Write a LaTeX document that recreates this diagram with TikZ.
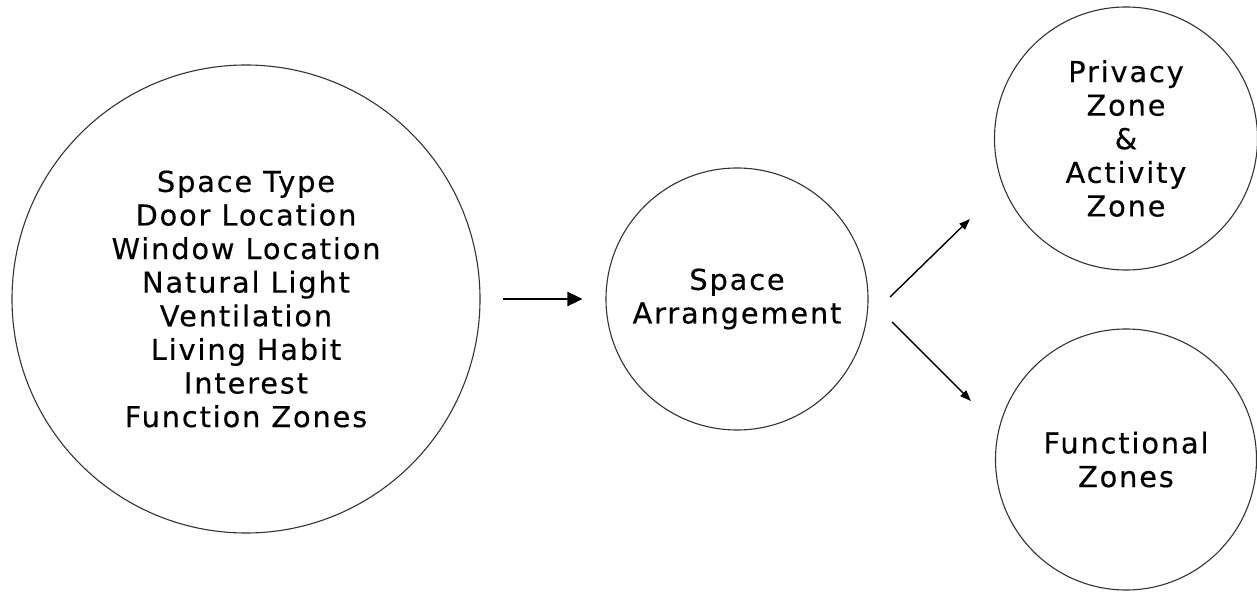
\documentclass[tikz,border=0pt]{standalone}
\usepackage{fontspec}
\setmainfont{DejaVu Sans}[LetterSpace=6.5,FakeBold=0.4]
\usetikzlibrary{arrows.meta}
\begin{document}
\begin{tikzpicture}[x=1pt,y=-1pt,
  zone/.style={circle,draw=black!80,line width=1.1pt,inner sep=0pt,align=center,
    font=\fontsize{28.8}{33.6}\selectfont},
  mainarrow/.style={line width=2.6pt,-{Triangle[length=15pt,width=14pt]}},
  thinarrow/.style={line width=1.4pt,-{Triangle[length=11pt,width=8pt]}}]
\useasboundingbox (0,0) rectangle (1257,593);
\node[zone,minimum size=468pt] (big) at (246,299)
  {Space Type\\Door Location\\Window Location\\Natural Light\\Ventilation\\Living Habit\\Interest\\Function Zones};
\node[zone,minimum size=262pt] (mid) at (737,299) {Space\\Arrangement};
\node[zone,minimum size=263pt] (top) at (1126,138.5) {Privacy\\Zone\\\&\\Activity\\Zone};
\node[zone,minimum size=261pt] (bot) at (1126,459.5) {Functional\\Zones};
\draw[mainarrow,shorten <=22pt,shorten >=23pt] (big.east) -- (mid.west);
\coordinate (ups) at (890,297);
\coordinate (upe) at (970,219);
\coordinate (dns) at (892,322);
\coordinate (dne) at (971,401);
\draw[thinarrow] (ups) -- (upe);
\draw[thinarrow] (dns) -- (dne);
\end{tikzpicture}
\end{document}
